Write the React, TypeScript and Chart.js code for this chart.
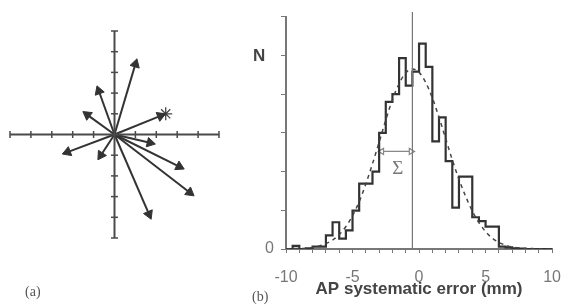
import React, { useEffect, useRef } from 'react';
import { Chart, registerables } from 'chart.js';
Chart.register(...registerables);

// ---------- Panel (a): vector diagram ----------
const axisRangeA = [-5, 5];
const axisTicksA = [-5, -4, -3, -2, -1, 0, 1, 2, 3, 4, 5];
const vectorTipsX = [1.0, -0.75, -1.3, 2.2, 1.7, 3.1, 3.6, 1.65, -0.65, -2.25];
const vectorTipsY = [3.4, 2.1, 0.95, 0.9, -0.4, -1.55, -2.8, -3.85, -1.0, -0.85];
const starMark = { x: 2.45, y: 1.0 };

// ---------- Panel (b): histogram ----------
const binLeftEdges = [
  -10, -9.5, -9, -8.5, -8, -7.5, -7, -6.5, -6, -5.5,
  -5, -4.5, -4, -3.5, -3, -2.5, -2, -1.5, -1, -0.5,
  0, 0.5, 1, 1.5, 2, 2.5, 3, 3.5, 4, 4.5,
  5, 5.5, 6, 6.5, 7, 7.5, 8, 8.5, 9, 9.5,
];
const binCounts = [
  0, 0.08, 0, 0.02, 0.06, 0.06, 0.35, 0.69, 0.27, 0.48,
  0.99, 1.69, 1.69, 2.0, 3.0, 3.8, 4.0, 4.93, 4.22, 4.58,
  5.3, 4.7, 2.78, 3.4, 2.27, 1.07, 1.87, 1.87, 0.82, 0.72,
  0.58, 0.58, 0.06, 0.04, 0.02, 0.01, 0, 0, 0, 0,
];
const fitX = [
  -10, -9.5, -9, -8.5, -8, -7.5, -7, -6.5, -6, -5.5,
  -5, -4.5, -4, -3.5, -3, -2.5, -2, -1.5, -1, -0.5,
  0, 0.5, 1, 1.5, 2, 2.5, 3, 3.5, 4, 4.5,
  5, 5.5, 6, 6.5, 7, 7.5, 8, 8.5, 9, 9.5, 10,
];
const fitY = [
  0, 0.01, 0.01, 0.02, 0.04, 0.08, 0.14, 0.23, 0.37, 0.58,
  0.86, 1.22, 1.68, 2.2, 2.76, 3.33, 3.86, 4.27, 4.55, 4.65,
  4.56, 4.3, 3.9, 3.4, 2.85, 2.3, 1.8, 1.36, 0.98, 0.68,
  0.45, 0.28, 0.17, 0.1, 0.05, 0.03, 0.01, 0.01, 0, 0, 0,
];
const meanValue = -0.5;
const meanLineTop = 6.12;
const sigmaArrowX = [-2.8, -0.6];
const sigmaArrowY = 2.52;
const sigmaLabelPos = { x: -1.6, y: 2.06 };
const xTickLabels = [-10, -5, 0, 5, 10];
const yRange = [0, 6];

const SANS = '"Liberation Sans", Arial, sans-serif';
const SERIF = '"Liberation Serif", "DejaVu Serif", serif';

function VectorPanel() {
  const ref = useRef<HTMLCanvasElement>(null);
  useEffect(() => {
    const axisColor = '#4a4a4a';
    const datasets: any[] = [
      {
        data: [{ x: axisRangeA[0], y: 0 }, { x: axisRangeA[1], y: 0 }],
        showLine: true, borderColor: axisColor, borderWidth: 2, pointRadius: 0, clip: false,
      },
      {
        data: [{ x: 0, y: axisRangeA[0] }, { x: 0, y: axisRangeA[1] }],
        showLine: true, borderColor: axisColor, borderWidth: 2, pointRadius: 0, clip: false,
      },
      {
        data: axisTicksA.filter((t) => t !== 0).map((t) => ({ x: t, y: 0 })),
        showLine: false, pointStyle: 'line', pointRadius: 3.5, pointRotation: 90,
        pointBorderColor: axisColor, pointBorderWidth: 1.5, clip: false,
      },
      {
        data: axisTicksA.filter((t) => t !== 0).map((t) => ({ x: 0, y: t })),
        showLine: false, pointStyle: 'line', pointRadius: 3.5, pointRotation: 0,
        pointBorderColor: axisColor, pointBorderWidth: 1.5, clip: false,
      },
    ];
    vectorTipsX.forEach((tx, i) => {
      const ty = vectorTipsY[i];
      const ang = (Math.atan2(tx, ty) * 180) / Math.PI;
      datasets.push({
        data: [{ x: 0, y: 0 }, { x: tx, y: ty }],
        showLine: true,
        borderColor: '#333',
        borderWidth: 2,
        pointStyle: 'triangle',
        pointRadius: [0, 5.5],
        pointRotation: [0, ang],
        pointBackgroundColor: '#333',
        pointBorderColor: '#333',
        pointBorderWidth: 1,
        clip: false,
      });
    });
    datasets.push({
      data: [starMark],
      showLine: false, pointStyle: 'star', pointRadius: 6.5,
      pointBorderColor: '#444', pointBorderWidth: 1.3, clip: false,
    });
    const chart = new Chart(ref.current!, {
      type: 'scatter',
      data: { datasets },
      options: {
        responsive: false,
        animation: false,
        layout: { padding: { left: 10, right: 11, top: 31, bottom: 70 } },
        plugins: { legend: { display: false }, tooltip: { enabled: false } },
        scales: {
          x: { type: 'linear', min: axisRangeA[0], max: axisRangeA[1], display: false },
          y: { type: 'linear', min: axisRangeA[0], max: axisRangeA[1], display: false },
        },
      },
    });
    return () => chart.destroy();
  }, []);
  return <canvas ref={ref} width={230} height={308} style={{ position: 'absolute', left: 0, top: 0 }} />;
}

const sigmaPlugin = {
  id: 'sigmaLabel',
  afterDatasetsDraw(chart: any) {
    const { ctx, scales } = chart;
    ctx.save();
    ctx.fillStyle = '#777';
    ctx.font = `19px ${SERIF}`;
    ctx.textAlign = 'center';
    ctx.textBaseline = 'middle';
    ctx.fillText('Σ', scales.x.getPixelForValue(sigmaLabelPos.x), scales.y.getPixelForValue(sigmaLabelPos.y));
    ctx.restore();
  },
};

function HistogramPanel() {
  const ref = useRef<HTMLCanvasElement>(null);
  useEffect(() => {
    const histData = binLeftEdges.map((x, i) => ({ x, y: binCounts[i] }));
    histData.push({ x: 10, y: 0 });
    const fitData = fitX.map((x, i) => ({ x, y: fitY[i] }));
    const chart = new Chart(ref.current!, {
      type: 'line',
      data: {
        datasets: [
          {
            data: [{ x: meanValue, y: 0 }, { x: meanValue, y: meanLineTop }],
            borderColor: '#777', borderWidth: 1.2, pointRadius: 0, clip: false,
          },
          {
            data: fitData,
            borderColor: '#444', borderWidth: 1.5, borderDash: [4, 4],
            pointRadius: 0, tension: 0.4, cubicInterpolationMode: 'monotone',
          },
          {
            data: histData,
            borderColor: '#333', borderWidth: 2.2, stepped: 'before', pointRadius: 0,
          },
          {
            data: [{ x: sigmaArrowX[0], y: sigmaArrowY }, { x: sigmaArrowX[1], y: sigmaArrowY }],
            borderColor: '#888', borderWidth: 1.2, pointStyle: 'triangle',
            pointRadius: 3.5, pointRotation: [-90, 90],
            pointBackgroundColor: '#fff', pointBorderColor: '#888', pointBorderWidth: 1.2,
          },
        ],
      },
      options: {
        responsive: false,
        animation: false,
        layout: { padding: { left: 0, right: 0, top: 15, bottom: 0 } },
        plugins: { legend: { display: false }, tooltip: { enabled: false } },
        scales: {
          x: {
            type: 'linear', min: -10, max: 10,
            afterFit: (s: any) => { s.height = 59; },
            ticks: {
              stepSize: 1, autoSkip: false, maxRotation: 0, padding: 15,
              color: '#777', font: { family: SANS, size: 16 },
              callback: (v: any) => (xTickLabels.includes(Number(v)) ? String(v) : ''),
            },
            grid: { display: true, drawOnChartArea: false, drawTicks: true, tickLength: 4, color: '#777', lineWidth: 1 },
            border: { display: true, color: '#777', width: 2 },
            title: {
              display: true, text: 'AP systematic error (mm)', color: '#444',
              font: { family: SANS, size: 17, weight: 'bold' }, padding: { top: 0, bottom: 8 },
            },
          },
          y: {
            type: 'linear', min: yRange[0], max: yRange[1],
            afterFit: (s: any) => { s.width = 56; },
            ticks: {
              stepSize: 1, padding: 7, color: '#777', font: { family: SANS, size: 16 },
              callback: (v: any) => (Number(v) === 0 ? '0' : ''),
            },
            grid: { display: true, drawOnChartArea: false, drawTicks: true, tickLength: 5, color: '#777', lineWidth: 1 },
            border: { display: true, color: '#777', width: 2 },
          },
        },
      },
      plugins: [sigmaPlugin],
    });
    return () => chart.destroy();
  }, []);
  return <canvas ref={ref} width={346} height={308} style={{ position: 'absolute', left: 230, top: 0 }} />;
}

export default function App() {
  return (
    <div style={{ position: 'fixed', left: 0, top: 0, width: 565, height: 308, background: '#fff', overflow: 'hidden' }}>
      <VectorPanel />
      <HistogramPanel />
      <span style={{ position: 'absolute', left: 25, top: 284, font: `14px ${SERIF}`, color: '#555' }}>(a)</span>
      <span style={{ position: 'absolute', left: 252, top: 289, font: `14px ${SERIF}`, color: '#555' }}>(b)</span>
      <span style={{ position: 'absolute', left: 253, top: 46, font: `bold 17px ${SANS}`, color: '#444' }}>N</span>
    </div>
  );
}
